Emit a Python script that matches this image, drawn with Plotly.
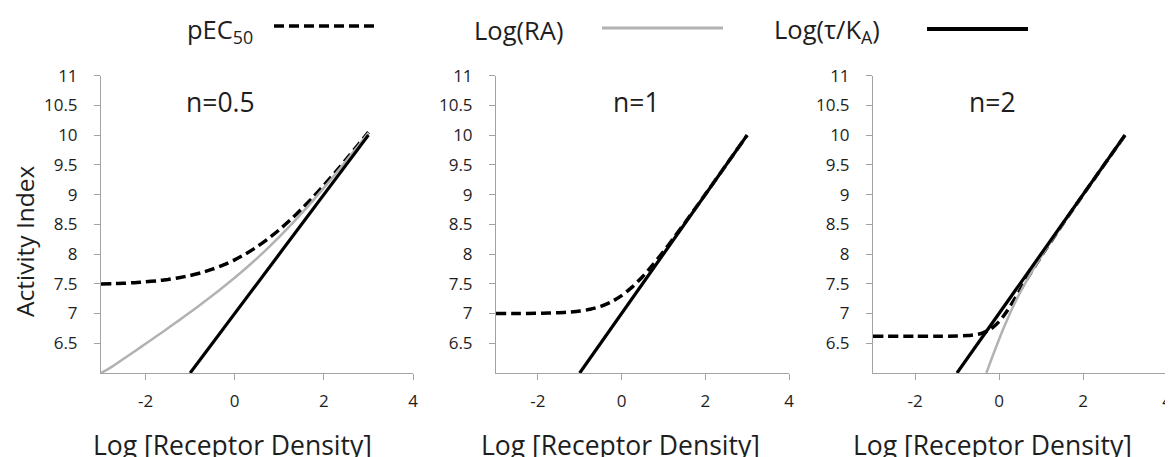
import plotly.graph_objects as go

SCREEN_W, SCREEN_H = 1173, 457
OFF = 8  # page body margin offset in the screenshot
W, H = SCREEN_W - OFF, SCREEN_H - OFF

# ---------------- data ----------------
panel_titles = ["n=0.5", "n=1", "n=2"]
series_names = ["pEC<sub>50</sub>", "Log(RA)", "Log(τ/K<sub>A</sub>)"]

# Log(tau/KA) straight line (same in all panels)
x_tau = [-1, 3]
y_tau = [6.0, 10.0]

# panel n=0.5
x_n05 = [-3, -2.75, -2.5, -2.25, -2, -1.75, -1.5, -1.25, -1, -0.75, -0.5, -0.25,
         0, 0.25, 0.5, 0.75, 1, 1.25, 1.5, 1.75, 2, 2.25, 2.5, 2.75, 3]
pec_n05 = [7.495, 7.501, 7.509, 7.519, 7.533, 7.550, 7.573, 7.603, 7.640, 7.687,
           7.746, 7.817, 7.903, 8.005, 8.123, 8.258, 8.409, 8.576, 8.757, 8.951,
           9.155, 9.370, 9.591, 9.820, 10.05]
ra_n05 = [6.0, 6.108, 6.235, 6.363, 6.491, 6.621, 6.752, 6.885, 7.021, 7.159,
          7.302, 7.449, 7.602, 7.762, 7.929, 8.105, 8.290, 8.483, 8.686, 8.896,
          9.114, 9.338, 9.568, 9.802, 10.039]

# panel n=1
x_n1 = [-3, -2.5, -2, -1.75, -1.5, -1.25, -1, -0.75, -0.5, -0.25, 0, 0.25, 0.5,
        0.75, 1, 1.25, 1.5, 1.75, 2, 2.5, 3]
pec_n1 = [7.000, 7.001, 7.004, 7.008, 7.014, 7.024, 7.041, 7.071, 7.119, 7.194,
          7.301, 7.444, 7.619, 7.821, 8.041, 8.274, 8.514, 8.758, 9.004, 9.501, 10.0]
x_ra_n1 = [-1, 3]
ra_n1 = [6.0, 10.0]

# panel n=2
x_pec_n2 = [-3, -2, -1.5, -1, -0.75, -0.5, -0.4, -0.3, -0.25, -0.2, -0.1, 0, 0.1,
            0.2, 0.25, 0.3, 0.4, 0.5, 0.75, 1, 1.5, 2, 2.5, 3]
pec_n2 = [6.617, 6.617, 6.618, 6.621, 6.629, 6.652, 6.671, 6.699, 6.718, 6.739,
          6.794, 6.865, 6.951, 7.051, 7.105, 7.160, 7.275, 7.392, 7.681, 7.959,
          8.487, 8.996, 9.499, 10.0]
x_ra_n2 = [-0.3, -0.25, -0.2, -0.1, 0, 0.1, 0.2, 0.25, 0.3, 0.4, 0.5, 0.75, 1,
           1.5, 2, 2.5, 3]
ra_n2 = [6.002, 6.098, 6.194, 6.381, 6.563, 6.739, 6.905, 6.985, 7.063, 7.211,
         7.350, 7.668, 7.955, 8.486, 8.996, 9.499, 10.0]

x_ticks = [-2, 0, 2, 4]
x_labels = ["-2", "0", "2", "4"]
y_ticks = [6.5, 7, 7.5, 8, 8.5, 9, 9.5, 10, 10.5, 11]

# ---------------- styling ----------------
FONT = "'Open Sans', Lato, sans-serif"
TXT = "#1e1e1e"
AXC = "#a3a3a3"
DASH = "10px,5px"
GRAY = "#b2b2b2"


def px(xp):
    return (xp - OFF) / W


def py(yp):
    return 1 - (yp - OFF) / H


panels = [
    dict(pec=(x_n05, pec_n05), ra=(x_n05, ra_n05)),
    dict(pec=(x_n1, pec_n1), ra=(x_ra_n1, ra_n1)),
    dict(pec=(x_pec_n2, pec_n2), ra=(x_ra_n2, ra_n2)),
]

# pixel layout of plot areas (screen pixels of the reference)
px_dom = [(101, 413), (496, 789), (873, 1167)]
y_top_px, y_bot_px = 75.7, 373

fig = go.Figure()

for i, p in enumerate(panels):
    ax = "" if i == 0 else str(i + 1)
    xa, ya = "x" + ax, "y" + ax
    fig.add_trace(go.Scatter(x=p["pec"][0], y=p["pec"][1], mode="lines", xaxis=xa, yaxis=ya,
                             line=dict(color="black", width=3.5, dash=DASH, shape="spline", smoothing=0.6),
                             showlegend=False, name="pEC50"))
    fig.add_trace(go.Scatter(x=p["ra"][0], y=p["ra"][1], mode="lines", xaxis=xa, yaxis=ya,
                             line=dict(color=GRAY, width=2.5, shape="spline", smoothing=0.6),
                             showlegend=False, name="Log(RA)"))
    fig.add_trace(go.Scatter(x=x_tau, y=y_tau, mode="lines", xaxis=xa, yaxis=ya,
                             line=dict(color="black", width=3.2),
                             showlegend=False, name="Log(tau/KA)"))

    d0, d1 = px_dom[i]
    common_x = dict(domain=[px(d0), min(px(d1), 1.0)], range=[-3, 4], tickvals=x_ticks, ticktext=x_labels,
                    showgrid=False, zeroline=False, showline=True, linecolor=AXC, linewidth=1,
                    ticks="outside", ticklen=6, tickcolor=AXC, tickwidth=1, automargin=False,
                    tickfont=dict(family=FONT, size=17, color=TXT), ticklabelstandoff=7,
                    anchor=ya, fixedrange=True)
    common_y = dict(domain=[py(y_bot_px), py(y_top_px)], range=[6, 11], tickvals=y_ticks,
                    showgrid=False, zeroline=False, showline=True, linecolor=AXC, linewidth=1,
                    ticks="outside", ticklen=6, tickcolor=AXC, tickwidth=1, automargin=False,
                    tickfont=dict(family=FONT, size=17, color=TXT), ticklabelstandoff=13,
                    anchor=xa, fixedrange=True)
    fig.update_layout(**{"xaxis" + ax: common_x, "yaxis" + ax: common_y})

annotations = []
# panel titles
title_px = [(220, 102), (636, 102), (992, 102)]
for (tx, ty), t in zip(title_px, panel_titles):
    annotations.append(dict(text=t, x=px(tx), y=py(ty), xref="paper", yref="paper",
                            xanchor="center", yanchor="middle", showarrow=False,
                            font=dict(family=FONT, size=26.5, color=TXT)))
# x axis titles
xt_px = [232, 620, 992]
for tx in xt_px:
    annotations.append(dict(text="Log [Receptor Density]", x=px(tx), y=py(445),
                            xref="paper", yref="paper", xanchor="center", yanchor="middle",
                            showarrow=False, font=dict(family=FONT, size=26.5, color=TXT)))
# y axis title
annotations.append(dict(text="Activity Index", x=px(24), y=py(241), xref="paper", yref="paper",
                        xanchor="center", yanchor="middle", textangle=-90, showarrow=False,
                        font=dict(family=FONT, size=24.5, color=TXT)))

# legend (text left of sample line)
leg_text_px = [185, 472, 772]
for lx, name in zip(leg_text_px, series_names):
    annotations.append(dict(text=name, x=px(lx), y=py(30), xref="paper", yref="paper",
                            xanchor="left", yanchor="middle", showarrow=False,
                            font=dict(family=FONT, size=25.5, color=TXT)))

shapes = [
    dict(type="line", xref="paper", yref="paper", x0=px(274), x1=px(377), y0=py(26), y1=py(26),
         line=dict(color="black", width=3.5, dash=DASH)),
    dict(type="line", xref="paper", yref="paper", x0=px(602), x1=px(723), y0=py(28), y1=py(28),
         line=dict(color=GRAY, width=3)),
    dict(type="line", xref="paper", yref="paper", x0=px(927), x1=px(1028), y0=py(29), y1=py(29),
         line=dict(color="black", width=4)),
]

fig.update_layout(width=W, height=H, margin=dict(l=0, r=0, t=0, b=0, pad=0, autoexpand=False),
                  paper_bgcolor="white", plot_bgcolor="white",
                  annotations=annotations, shapes=shapes, showlegend=False,
                  font=dict(family=FONT, color=TXT))

fig.write_html("out.html", config={"displayModeBar": False})
